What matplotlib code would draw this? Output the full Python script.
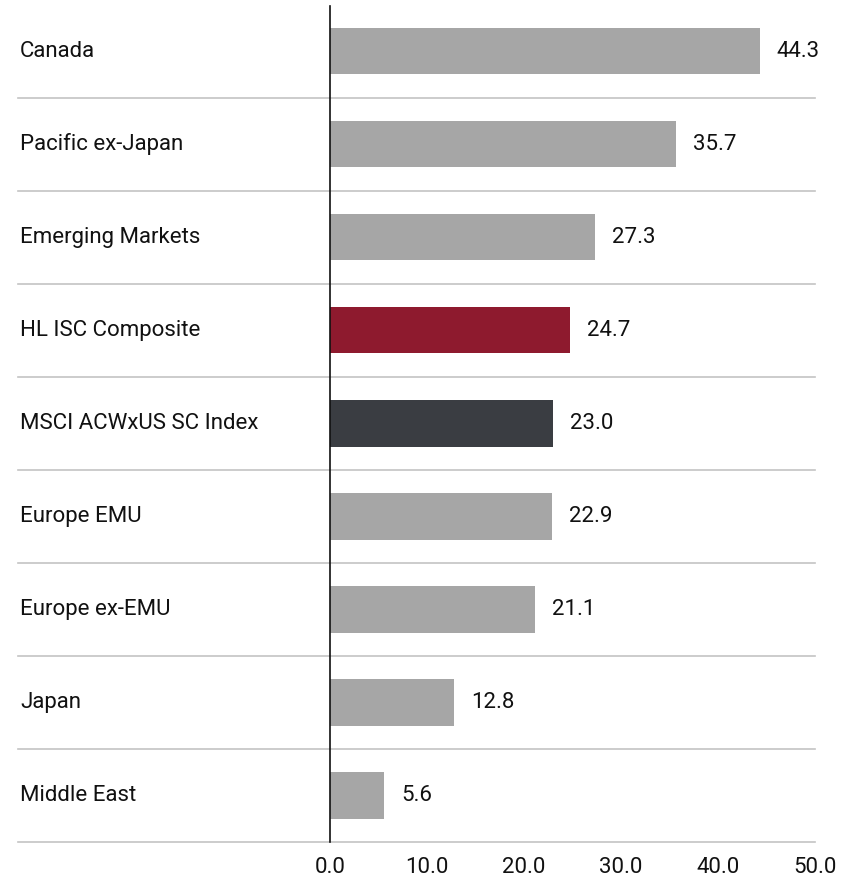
import matplotlib
matplotlib.use("Agg")
import matplotlib.pyplot as plt
from matplotlib.lines import Line2D
from matplotlib.transforms import blended_transform_factory

categories = ["Canada", "Pacific ex-Japan", "Emerging Markets", "HL ISC Composite",
              "MSCI ACWxUS SC Index", "Europe EMU", "Europe ex-EMU", "Japan", "Middle East"]
values = [44.3, 35.7, 27.3, 24.7, 23.0, 22.9, 21.1, 12.8, 5.6]
colors = ["#a6a6a6", "#a6a6a6", "#a6a6a6", "#8e1a2e", "#3a3d42",
          "#a6a6a6", "#a6a6a6", "#a6a6a6", "#a6a6a6"]
xticks = [0, 10, 20, 30, 40, 50]

plt.rcParams['font.family'] = ['Roboto', 'DejaVu Sans']
FS = 16
TXT = "#111111"

W, H = 858, 881
fig = plt.figure(figsize=(W / 100, H / 100), dpi=100)
ax = fig.add_axes([330 / W, (H - 842) / H, 485 / W, 836 / H])

ypos = list(range(len(categories)))
ax.barh(ypos, values, height=0.5, color=colors, zorder=2)

ax.set_xlim(0, 50)
ax.set_ylim(len(categories) - 0.5, -0.484)

for s in ["top", "right", "bottom"]:
    ax.spines[s].set_visible(False)
ax.spines["left"].set_color(TXT)
ax.spines["left"].set_linewidth(1.2)
ax.spines["left"].set_zorder(3)

ax.set_yticks([])
ax.set_xticks(xticks)
ax.set_xticklabels([f"{t:.1f}" for t in xticks], fontsize=FS, color=TXT)
ax.tick_params(axis="x", length=0, pad=11)

# row separators, extending under the category labels
tr = blended_transform_factory(fig.transFigure, ax.transData)
for i in ypos:
    ax.add_line(Line2D([18 / W, 815 / W], [i + 0.5, i + 0.5], transform=tr,
                       color="#c4c4c4", linewidth=1.2, clip_on=False, zorder=1))

for i, (c, v) in enumerate(zip(categories, values)):
    ax.text(20 / W, i, c, transform=tr, fontsize=FS, color=TXT, va="center", ha="left")
    ax.annotate(f"{v:.1f}", (v, i), xytext=(17, 0), textcoords="offset pixels",
                fontsize=FS, color=TXT, va="center", ha="left")

fig.savefig("out.png", dpi=100)
